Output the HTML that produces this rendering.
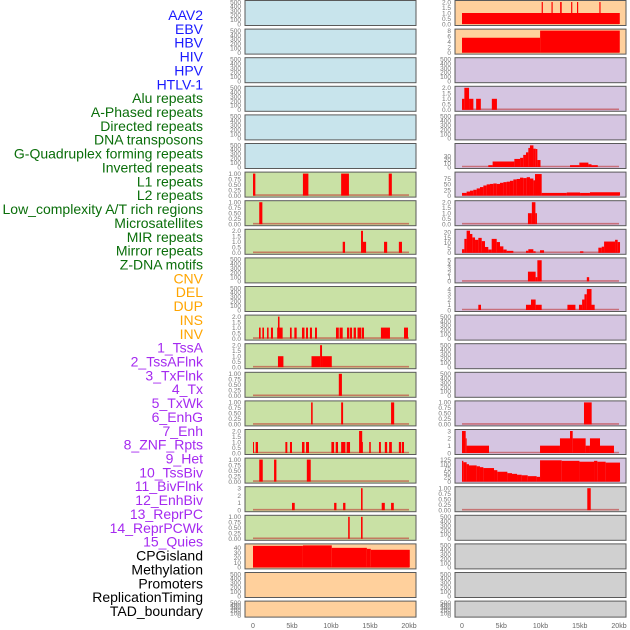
<!DOCTYPE html>
<html><head><meta charset="utf-8">
<style>
html,body{margin:0;padding:0;background:#fff;}
svg{display:block;font-family:"Liberation Sans",sans-serif;}
</style></head>
<body>
<svg id="chart" width="630" height="630" viewBox="0 0 630 630"></svg>
<script>
// ---- labels ----
const labels = ["AAV2","EBV","HBV","HIV","HPV","HTLV-1","Alu repeats","A-Phased repeats","Directed repeats","DNA transposons","G-Quadruplex forming repeats","Inverted repeats","L1 repeats","L2 repeats","Low_complexity A/T rich regions","Microsatellites","MIR repeats","Mirror repeats","Z-DNA motifs","CNV","DEL","DUP","INS","INV","1_TssA","2_TssAFlnk","3_TxFlnk","4_Tx","5_TxWk","6_EnhG","7_Enh","8_ZNF_Rpts","9_Het","10_TssBiv","11_BivFlnk","12_EnhBiv","13_ReprPC","14_ReprPCWk","15_Quies","CPGisland","Methylation","Promoters","ReplicationTiming","TAD_boundary"];
const labelGroups = ["v","v","v","v","v","v","r","r","r","r","r","r","r","r","r","r","r","r","r","s","s","s","s","s","c","c","c","c","c","c","c","c","c","c","c","c","c","c","c","o","o","o","o","o"];
const xTickLabels = ["0","5kb","10kb","15kb","20kb"];
const xTickValues = [0,5,10,15,20];

// ---- series: [startKb, endKb, value] ----
const alu = [[0,0.3,1],[6.4,7.1,1],[11.3,12.3,1],[17.4,17.8,1]];
const aPhased = [[0.8,1.2,1]];
const directed = [[11.5,11.8,1],[13.85,14.1,2],[14.1,14.5,1],[16.8,17.2,1],[18.7,19.1,1]];
const inverted = [[0.77,0.98,1],[1.2,1.41,1],[1.8,2.0,1],[2.3,2.56,1],[3.1,3.2,1],[3.2,3.4,2],[3.4,3.8,1],[4.74,4.96,1],[5.3,5.6,1],[6.28,6.6,1],[6.8,7.05,1],[7.3,7.56,1],[7.95,8.2,1],[10.64,11.0,1],[11.1,11.5,1],[12.05,12.35,1],[12.44,12.7,1],[12.9,13.2,1],[13.4,13.85,1],[13.93,14.23,1],[16.4,17.56,1],[19.36,19.87,1]];
const l1 = [[3.2,3.9,1],[7.5,8.6,1],[8.6,8.85,2],[8.85,10.1,1]];
const l2 = [[11.0,11.4,1]];
const lowComplexity = [[7.45,7.65,1],[11.3,11.55,1],[17.7,18.1,1]];
const microsat = [[0,0.13,1],[0.34,0.64,1],[4.15,4.4,1],[4.74,5.0,1],[6.28,6.6,1],[6.8,7.18,1],[10.05,10.4,1],[10.6,10.9,1],[11.3,11.85,1],[12.0,12.44,1],[13.6,14.0,2],[14.0,14.1,1],[14.9,15.1,1],[16.15,16.4,1],[16.9,17.2,1],[17.45,17.8,1],[18.7,19.0,1],[19.1,19.36,1]];
const mir = [[0.8,1.25,1],[2.7,3.0,1],[6.9,7.4,1]];
const mirror = [[5.0,5.35,1],[10.4,10.7,1],[11.55,11.85,1],[13.85,14.05,3],[16.5,16.9,1],[17.7,18.05,1]];
const zdna = [[12.2,12.4,1],[13.85,14.05,1]];
const cnv = [[0,6.4,44],[6.4,10.1,45],[10.1,14.6,40],[14.6,15.1,38],[15.1,20.1,36]];
const ins = [[0,20.1,1],[10.15,10.3,2],[11.4,11.55,2],[12.5,12.7,2],[13.9,14.05,2],[14.65,14.8,2],[17.5,17.65,2]];
const inv = [[0,9.95,5.4],[9.95,20.1,8]];
const tssAFlnk = [[0,0.3,1],[0.3,0.9,2],[0.9,1.45,1],[1.8,2.4,1],[3.8,4.45,1]];
const tx = [[3.35,3.9,5],[3.9,6.67,15],[6.67,7.4,22],[7.4,7.8,25],[7.8,8.15,33],[8.15,8.45,40],[8.45,8.66,52],[8.66,9.1,59],[9.1,9.4,50],[9.4,9.6,49],[9.6,10.0,19],[13.76,14.95,5],[14.95,16.1,12],[16.1,16.5,7.5],[16.5,17.3,5]];
const txWk = [[0,0.59,12],[0.59,1.02,18],[1.02,1.44,22],[1.44,1.87,26],[1.87,2.29,32],[2.29,2.72,38],[2.72,3.14,45],[3.14,3.57,50],[3.57,3.99,52],[3.99,4.42,54],[4.42,4.84,52],[4.84,5.27,57],[5.27,5.69,60],[5.69,6.11,62],[6.11,6.54,66],[6.54,6.96,72],[6.96,7.39,74],[7.39,7.81,80],[7.81,8.24,78],[8.24,8.66,82],[8.66,9.09,76],[9.09,9.3,68],[9.3,10.15,96],[10.15,13.34,12],[13.34,15.04,14],[15.04,16.3,12],[16.3,20.13,15]];
const enhG = [[8.4,8.9,1],[8.9,9.35,2],[9.35,9.55,1]];
const enh = [[0,0.3,3.5],[0.3,0.59,13.6],[0.59,1.02,21.6],[1.02,1.32,18.4],[1.32,1.66,15],[1.66,2.08,12.7],[2.08,2.51,14.6],[2.51,2.93,11.4],[2.93,3.35,5.7],[3.35,3.78,3.2],[3.78,4.42,13.6],[4.42,4.84,10.5],[4.84,5.27,6.3],[5.27,5.69,3.2],[5.69,6.54,1.9],[8.15,8.45,2],[8.45,9.09,3.5],[9.09,9.38,1.5],[9.94,10.45,2.5],[15.04,15.46,1.5],[17.37,17.8,5],[17.8,18.1,6],[18.1,19.5,11],[19.5,19.83,12.7],[19.83,20.13,10.5]];
const znf = [[8.4,9.38,2.3],[9.38,9.6,1],[9.6,10.15,5],[15.9,16.2,1]];
const het = [[2.08,2.42,1],[8.15,8.79,1],[8.79,9.38,2],[9.38,10.15,1],[13.43,14.45,1],[14.9,15.3,1],[15.3,15.6,2],[15.6,15.9,3],[15.9,16.5,4],[16.5,16.9,1]];
const reprPC = [[15.54,16.52,1]];
const reprPCWk = [[0,0.47,3],[0.47,0.59,2],[0.59,3.44,1],[9.94,12.48,1],[12.48,13.76,2],[13.76,14.1,3],[14.1,15.75,2],[15.75,16.3,1],[16.3,17.58,2],[17.58,19.36,1]];
const quies = [[0,0.17,118],[0.17,0.59,110],[0.59,0.89,99],[0.89,1.87,92],[1.87,2.29,87],[2.29,2.72,82],[2.72,4.08,77],[4.08,4.5,65],[4.5,5.78,56],[5.78,6.37,48],[6.37,7.01,44],[7.01,7.6,39],[7.6,8.37,36],[8.37,9.51,31],[9.51,9.94,27],[9.94,12.7,121],[12.7,14.96,118],[14.96,16.82,113],[16.82,17.24,118],[17.24,18.3,113],[18.3,20.13,108]];
const cpg = [[15.96,16.4,1]];

// ---- tick label sets ----
const tEmpty = ["0","100","200","300","400","500"];
const tFrac = ["0.00","0.25","0.50","0.75","1.00"];
const tTwo = ["0.0","0.5","1.0","1.5","2.0"];
const tThree = ["0","1","2","3"];
const tCnv = ["0","10","20","30","40"];
const tInv = ["0","2","4","6","8"];
const tTx = ["0","10","20","30"];
const tTxWk = ["0","25","50","75"];
const tEnh = ["0","5","10","15","20"];
const tZnf = ["0","1","2","3","4","5"];
const tHet = ["0","1","2","3","4"];
const tQuies = ["0","25","50","75","100","125"];

const BG = {v:"#c8e4ec", r:"#c9e1a5", s:"#ffd09c", c:"#d5c5e1", o:"#d0d0d0"};
const TXT = {v:"#1a1aff", r:"#0a6e0a", s:"#ffa500", c:"#a52af0", o:"#000"};

// panels: [series, ticks, ymax]
const leftPanels = [
 [null,tEmpty,500],[null,tEmpty,500],[null,tEmpty,500],[null,tEmpty,500],[null,tEmpty,500],[null,tEmpty,500],
 [alu,tFrac,1],[aPhased,tFrac,1],[directed,tTwo,2],[null,tEmpty,500],[null,tEmpty,500],
 [inverted,tTwo,2],[l1,tTwo,2],[l2,tFrac,1],[lowComplexity,tFrac,1],[microsat,tTwo,2],[mir,tFrac,1],
 [mirror,tThree,3],[zdna,tFrac,1],[cnv,tCnv,45],[null,tEmpty,500],[null,tEmpty,500]];
const rightPanels = [
 [ins,tTwo,2],[inv,tInv,8],[null,tEmpty,500],[tssAFlnk,tTwo,2],[null,tEmpty,500],[tx,tTx,60],
 [txWk,tTxWk,98],[enhG,tTwo,2],[enh,tEnh,21.5],[znf,tZnf,5.2],[het,tHet,4.2],[null,tEmpty,500],
 [null,tEmpty,500],[null,tEmpty,500],[reprPC,tFrac,1],[reprPCWk,tThree,3],[quies,tQuies,125],[cpg,tFrac,1],
 [null,tEmpty,500],[null,tEmpty,500],[null,tEmpty,500],[null,tEmpty,500]];

const NS="http://www.w3.org/2000/svg";
const svg=document.getElementById('chart');
function mk(tag,attrs,parent){const e=document.createElementNS(NS,tag);for(const k in attrs)e.setAttribute(k,attrs[k]);(parent||svg).appendChild(e);return e;}

// labels
labels.forEach((t,i)=>{
  const el=mk('text',{x:203,y:15+i*13.86+5,'text-anchor':'end','font-size':14,fill:TXT[labelGroups[i]]});
  el.textContent=t;
  
  
});

function drawColumn(panels,colIdx,pLeft,pRight,x0,pxPerKb){
  const xs=kb=>x0+kb*pxPerKb;
  panels.forEach((p,i)=>{
    const [series,ticks,ymax]=p;
    const top=i*28.6+0.5;
    const h=(i===21)?16:25;
    const grp=labelGroups[colIdx*22+i];
    const g=mk('g',{});
    
    
    const bg=mk('rect',{x:pLeft,y:top,width:pRight-pLeft,height:h,fill:BG[grp],stroke:'#5a5a5a','stroke-width':1},g);
    
    
    const yb=top+h-1.5, yt=top+1.5;
    const ys=v=>yb-(v/ymax)*(yb-yt);
    const tickMax=parseFloat(ticks[ticks.length-1]);
    ticks.forEach(t=>{
      const v=parseFloat(t);
      const yy=(series?ys(v):yb-(v/tickMax)*(yb-yt));
      const tx=mk('text',{x:pLeft-4,y:yy+2.3,'text-anchor':'end','font-size':6.5,fill:'#777'},g);
      tx.textContent=t;
      
      
    });
    if(series){
      const base=mk('line',{x1:xs(0),x2:xs(20),y1:yb-0.5,y2:yb-0.5,stroke:'rgba(190,40,40,0.55)','stroke-width':1.6},g);
      
      
      series.forEach(s=>{
        const y=ys(s[2]);
        const r=mk('rect',{x:xs(s[0]),y:y,width:Math.max(0.8,xs(s[1])-xs(s[0])),height:Math.max(0,yb-y),fill:'#ff0000'},g);
        
        
      });
    }
  });
  xTickValues.forEach((v,k)=>{
    const t=mk('text',{x:xs(v),y:628,'text-anchor':'middle','font-size':7,fill:'#666'});
    t.textContent=xTickLabels[k];
    
    
  });
}
drawColumn(leftPanels,0,245,416,253,7.8);
drawColumn(rightPanels,1,455,626,462,7.85);
</script>
</body></html>
